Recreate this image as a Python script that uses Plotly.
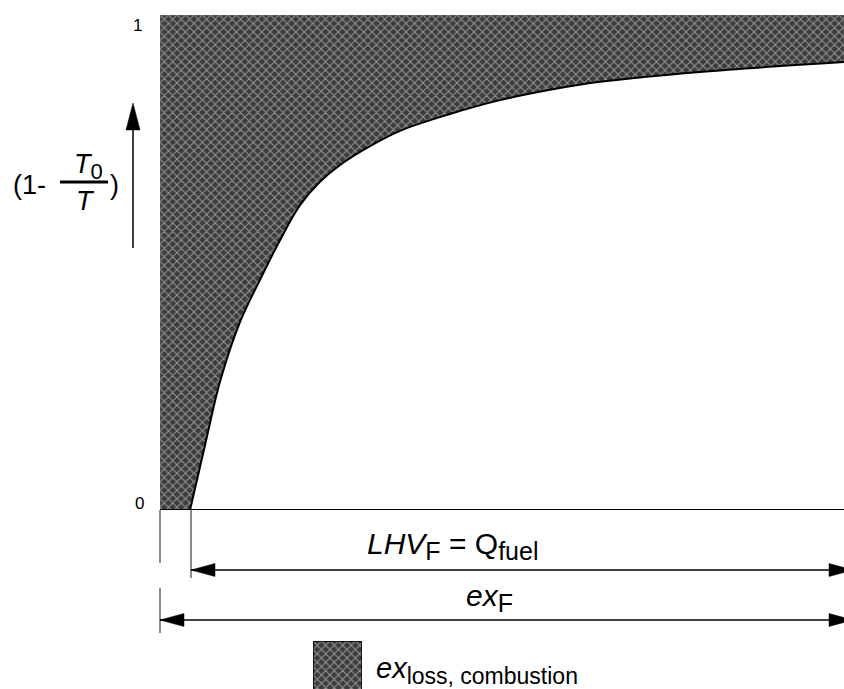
import plotly.graph_objects as go

# ---------------- data ----------------
curve_x = [4.39, 6.58, 8.77, 11.70, 14.62, 17.54, 20.47, 23.39, 26.32, 30.70, 35.09, 42.40, 49.71, 57.02, 64.33, 78.95, 100.0]
curve_y = [0.0, 0.131, 0.259, 0.380, 0.465, 0.545, 0.616, 0.663, 0.697, 0.735, 0.766, 0.800, 0.828, 0.849, 0.865, 0.885, 0.905]
x_range = [0.0, 100.0]
y_range = [0.0, 1.0]
y_tick_labels = ["0", "1"]
SUB = "<sub><span style='font-size:25px'>{}</span></sub>"
label_lhv = "<i>LHV</i>" + SUB.format("F") + " = Q" + SUB.format("fuel")
label_exf = "<i>ex</i>" + SUB.format("F")
label_legend = "<i>ex</i>" + "<sub><span style='font-size:23px'>loss, combustion</span></sub>"

W, H = 844, 689
FONT = "Liberation Sans, Arial, sans-serif"


def px(x):
    return x / W


def py(y):
    return 1 - y / H


pattern = dict(shape="x", bgcolor="#3c3c3c", fgcolor="#ececec", size=6, solidity=0.32)

fig = go.Figure()
# hatched rectangle (full area 0..1)
fig.add_trace(go.Scatter(
    x=[x_range[0], x_range[1], x_range[1], x_range[0], x_range[0]],
    y=[y_range[0], y_range[0], y_range[1], y_range[1], y_range[0]],
    fill="toself", fillpattern=pattern, mode="lines",
    line=dict(color="#666666", width=1), hoverinfo="skip", cliponaxis=False))
# white region under the curve + curve line
fig.add_trace(go.Scatter(
    x=curve_x, y=curve_y, fill="tozeroy", fillcolor="white", mode="lines",
    line=dict(color="black", width=2, shape="spline", smoothing=1),
    hoverinfo="skip", cliponaxis=False))
# baseline
fig.add_trace(go.Scatter(
    x=x_range, y=[y_range[0], y_range[0]], mode="lines",
    line=dict(color="black", width=2), hoverinfo="skip", cliponaxis=False))
# legend swatch
fig.add_trace(go.Scatter(
    x=[0, 1, 1, 0, 0], y=[-0.2, -0.2, 1, 1, -0.2], xaxis="x2", yaxis="y2",
    fill="toself", fillpattern=pattern, mode="lines",
    line=dict(color="black", width=1.5), hoverinfo="skip", cliponaxis=False))

shapes = []


def hline(x0, x1, y, color="black", width=1.5):
    shapes.append(dict(type="line", xref="paper", yref="paper", x0=px(x0), x1=px(x1),
                       y0=py(y), y1=py(y), line=dict(color=color, width=width)))


def vline(x, y0, y1, color="#666666", width=1.5):
    shapes.append(dict(type="line", xref="paper", yref="paper", x0=px(x), x1=px(x),
                       y0=py(y0), y1=py(y1), line=dict(color=color, width=width)))


def head(tx, ty, dx, dy, length=24, half=6.5):
    bx, by = tx - dx * length, ty - dy * length
    nx, ny = -dy, dx
    p1 = (bx + nx * half, by + ny * half)
    p2 = (bx - nx * half, by - ny * half)
    path = "M {:.5f},{:.5f} L {:.5f},{:.5f} L {:.5f},{:.5f} Z".format(
        px(tx), py(ty), px(p1[0]), py(p1[1]), px(p2[0]), py(p2[1]))
    shapes.append(dict(type="path", xref="paper", yref="paper", path=path,
                       fillcolor="black", line=dict(color="black", width=0.5)))


# extension lines
vline(160, 510, 563)
vline(160, 588, 633)
vline(191, 510, 578)
# LHV dimension arrow
hline(191, 850, 570)
head(191, 570, -1, 0)
head(853, 570, 1, 0)
# ex_F dimension arrow
hline(160, 850, 620)
head(160, 620, -1, 0)
head(853, 620, 1, 0)
# y arrow
vline(133, 248, 120, color="black", width=1.5)
head(133, 103, 0, -1, length=27, half=7)
# fraction bar
shapes.append(dict(type="line", xref="paper", yref="paper", x0=px(60), x1=px(108),
                   y0=py(182), y1=py(182), line=dict(color="black", width=3)))

annotations = []


def text(t, x, y, size, xanchor="center"):
    annotations.append(dict(text=t, x=px(x), y=py(y), xref="paper", yref="paper",
                            xanchor=xanchor, yanchor="middle", showarrow=False,
                            font=dict(family=FONT, size=size, color="black")))


text(y_tick_labels[1], 137, 25, 17)
text(y_tick_labels[0], 139, 503, 17)
text("(1-", 29, 185, 27)
text("<i>T</i><sub><span style='font-size:22px'>0</span></sub>", 88, 166, 27)
text("<i>T</i>", 85, 201, 27)
text(")", 114, 185, 27)
text(label_lhv, 452, 546, 30)
text(label_exf, 489, 598, 30)
text(label_legend, 374, 670, 29, xanchor="left")

fig.update_layout(
    width=W, height=H, margin=dict(l=0, r=0, t=0, b=0),
    paper_bgcolor="white", plot_bgcolor="white", showlegend=False,
    xaxis=dict(domain=[px(160), 1], range=x_range, visible=False),
    yaxis=dict(domain=[py(510), py(15)], range=y_range, visible=False),
    xaxis2=dict(domain=[px(313), px(362)], range=[0, 1], visible=False, anchor="y2"),
    yaxis2=dict(domain=[0, py(641)], range=[0, 1], visible=False, anchor="x2"),
    shapes=shapes, annotations=annotations,
)

fig.write_html("out.html", config={"displayModeBar": False},
               post_script="document.body.style.margin='0px';document.body.style.overflow='hidden';")
